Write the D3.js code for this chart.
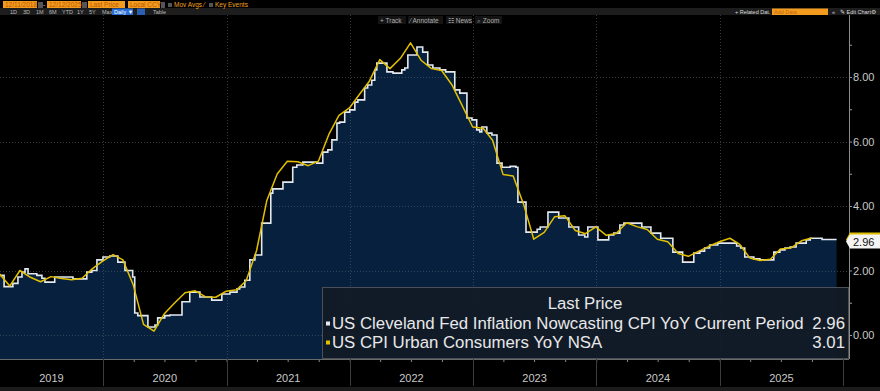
<!DOCTYPE html>
<html><head><meta charset="utf-8">
<script src="https://cdn.jsdelivr.net/npm/d3@7"></script>
<style>html,body{margin:0;padding:0;background:#000;overflow:hidden}svg{display:block;font-family:"Liberation Sans",Arial,sans-serif}</style>
</head><body><svg id="c" width="880" height="391"></svg>
<script>
// ---------- DATA ----------
// US CPI Urban Consumers YoY NSA (monthly, plotted at month end), first month:
const cpiStart = "2019-02";
const cpiValues = [
  1.90, 1.52, 2.00, 1.79, 1.65, 1.81, 1.75, 1.71, 1.76, 2.05, 2.29,
  2.49, 2.33, 1.54, 0.33, 0.12, 0.65, 0.99, 1.31, 1.37, 1.18, 1.17, 1.36,
  1.40, 1.68, 2.62, 4.16, 4.99, 5.39, 5.37, 5.25, 5.39, 6.22, 6.81, 7.04,
  7.48, 7.87, 8.54, 8.26, 8.58, 9.06, 8.52, 8.26, 8.20, 7.75, 7.11, 6.45,
  6.41, 6.04, 4.98, 4.93, 4.05, 2.97, 3.18, 3.67, 3.70, 3.24, 3.14, 3.35,
  3.09, 3.15, 3.48, 3.36, 3.27, 2.97, 2.89, 2.53, 2.44, 2.60, 2.75, 2.89,
  3.00, 2.82, 2.39, 2.31, 2.35, 2.67, 2.70, 2.92, 3.01
];
// US Cleveland Fed Inflation Nowcasting CPI YoY Current Period (step changes)
const nowcastDates = [
  "2019-03-01","2019-03-14","2019-04-09","2019-04-24","2019-05-06","2019-05-15","2019-05-24","2019-06-19","2019-07-04","2019-07-13","2019-08-11",
  "2019-10-04","2019-11-14","2019-11-29","2019-12-14","2020-01-01","2020-01-21","2020-02-14","2020-03-06","2020-03-29","2020-04-04",
  "2020-04-13","2020-05-13","2020-06-03","2020-06-11","2020-07-02","2020-07-17","2020-08-22","2020-09-14","2020-10-14","2020-11-18",
  "2020-12-18","2021-01-11","2021-02-01","2021-02-09","2021-02-24","2021-03-11","2021-03-26","2021-04-15","2021-05-12","2021-05-18",
  "2021-06-17","2021-07-16","2021-07-28","2021-08-15","2021-09-25","2021-10-13","2021-10-28","2021-11-09","2021-11-24","2021-12-02",
  "2021-12-17","2022-01-01","2022-01-16","2022-01-25","2022-02-14","2022-02-23","2022-03-07","2022-03-16","2022-03-22","2022-04-21",
  "2022-05-09","2022-06-04","2022-06-13","2022-06-22","2022-07-19","2022-08-05","2022-08-20","2022-09-04","2022-09-25","2022-10-12",
  "2022-11-08","2022-11-23","2022-12-14","2022-12-29","2023-01-12","2023-01-21","2023-01-27","2023-02-11","2023-02-26","2023-03-13",
  "2023-03-28","2023-04-21","2023-05-08","2023-05-14","2023-06-07","2023-07-10","2023-07-19","2023-08-11","2023-09-12","2023-10-12",
  "2023-11-10","2023-11-28","2023-12-07","2024-01-06","2024-02-07","2024-02-22","2024-03-11","2024-03-23","2024-05-15","2024-06-11",
  "2024-07-10","2024-08-15","2024-09-13","2024-10-16","2024-11-03","2024-11-17","2024-12-02","2024-12-26","2025-02-20","2025-03-04",
  "2025-03-16","2025-04-12","2025-04-30","2025-06-10","2025-06-28","2025-07-13","2025-07-28","2025-08-15","2025-09-14","2025-09-26",
  "2025-10-31","2025-12-13"
];
const nowcastValues = [
  1.85, 1.50, 1.60, 1.80, 1.95, 2.05, 1.90, 1.85, 1.76, 1.64, 1.80,
  1.74, 1.95, 2.00, 2.33, 2.42, 2.45, 2.26, 2.00, 1.80, 0.68,
  0.60, 0.25, 0.31, 0.53, 0.60, 0.62, 1.03, 1.33, 1.18, 1.08,
  1.27, 1.33, 1.43, 1.49, 1.70, 2.33, 2.48, 3.47, 4.40, 4.53,
  4.74, 5.20, 5.27, 5.36, 5.33, 5.67, 5.74, 6.05, 6.57, 6.60,
  6.91, 6.98, 7.22, 7.29, 7.66, 7.75, 7.90, 8.22, 8.43, 8.16,
  8.12, 8.22, 8.28, 8.68, 8.93, 8.77, 8.37, 8.28, 8.22, 8.16,
  7.60, 7.50, 6.73, 6.67, 6.36, 6.30, 6.45, 6.26, 6.20, 5.33,
  5.20, 5.23, 5.20, 4.12, 3.19, 3.28, 3.35, 3.81, 3.63, 3.35,
  3.10, 3.04, 3.35, 2.95, 3.10, 3.16, 3.41, 3.47, 3.35, 3.16,
  3.00, 2.57, 2.26, 2.54, 2.60, 2.70, 2.79, 2.85, 2.76, 2.70,
  2.42, 2.36, 2.33, 2.57, 2.64, 2.70, 2.73, 2.85, 2.95, 3.00,
  2.96, 2.96
];
const yTickValues = [0, 1, 2, 3, 4, 5, 6, 7, 8, 9];
const yLabelValues = [0, 2, 4, 6, 8];
const yearLabels = ["2019", "2020", "2021", "2022", "2023", "2024", "2025"];
const legendTitle = "Last Price";
const seriesNames = ["US Cleveland Fed Inflation Nowcasting CPI YoY Current Period", "US CPI Urban Consumers YoY NSA"];
const lastValues = ["2.96", "3.01"];
const seriesColors = ["#e4e9ef", "#e2c000"];

// ---------- CHART ----------
const svg = d3.select("#c");
const W = 880, H = 391;
const plot = {left: 0, right: 849, top: 15, bottom: 359};
const parse = d3.timeParse("%Y-%m-%d");

const x = d3.scaleTime().domain([new Date(2020, 0, 1), new Date(2026, 0, 1)]).range([103, 843]);
const y = d3.scaleLinear().domain([0, 8]).range([335, 77]);

svg.append("rect").attr("width", W).attr("height", H).attr("fill", "#000");

const defs = svg.append("defs");
defs.append("clipPath").attr("id", "clip").append("rect")
  .attr("x", plot.left).attr("y", plot.top).attr("width", plot.right - plot.left).attr("height", plot.bottom - plot.top);

const nowcast = nowcastDates.map((d, i) => ({date: parse(d), v: nowcastValues[i]}));
const [cy, cm] = cpiStart.split("-").map(Number);
const cpi = cpiValues.map((v, i) => ({date: new Date(cy, cm - 1 + i + 1, 0), v}));

const g = svg.append("g").attr("clip-path", "url(#clip)");

// area under nowcast
g.append("path").datum(nowcast)
  .attr("fill", "#06203d")
  .attr("d", d3.area().curve(d3.curveStepAfter).x(d => x(d.date)).y0(plot.bottom).y1(d => y(d.v)));

// gridlines
const grid = g.append("g").attr("stroke", "#5a6470").attr("stroke-opacity", 0.55).attr("stroke-dasharray", "1,2").attr("stroke-width", 1);
yLabelValues.forEach(v => grid.append("line").attr("x1", plot.left).attr("x2", plot.right).attr("y1", Math.round(y(v)) + 0.5).attr("y2", Math.round(y(v)) + 0.5));
yearLabels.slice(1).forEach(yr => {
  const xx = Math.round(x(new Date(+yr, 0, 1))) + 0.5;
  grid.append("line").attr("x1", xx).attr("x2", xx).attr("y1", plot.top).attr("y2", plot.bottom);
});

// lines
g.append("path").datum(nowcast).attr("fill", "none").attr("stroke", seriesColors[0]).attr("stroke-width", 1.6)
  .attr("d", d3.line().curve(d3.curveStepAfter).x(d => x(d.date)).y(d => y(d.v)));
g.append("path").datum(cpi).attr("fill", "none").attr("stroke", seriesColors[1]).attr("stroke-width", 1.5)
  .attr("stroke-linejoin", "round")
  .attr("d", d3.line().x(d => x(d.date)).y(d => y(d.v)));

// y axis (right)
const yAxis = svg.append("g").attr("transform", `translate(${plot.right},0)`)
  .call(d3.axisRight(y).tickValues(yTickValues).tickSize(3).tickFormat(d => yLabelValues.includes(d) ? d.toFixed(2) : ""));
yAxis.select(".domain").remove();
yAxis.selectAll("line").attr("stroke", "#9a9a9a");
yAxis.selectAll("text").attr("fill", "#c8c8c8").attr("font-size", 11).attr("x", 4).attr("font-family", "Liberation Sans, Arial, sans-serif");
svg.append("line").attr("x1", plot.right + 0.5).attr("x2", plot.right + 0.5).attr("y1", plot.top).attr("y2", plot.bottom).attr("stroke", "#8a8a8a");

// x axis
const xAxis = svg.append("g").attr("transform", `translate(0,${plot.bottom})`)
  .call(d3.axisBottom(x).ticks(d3.timeMonth.every(3)).tickSize(3).tickFormat(""));
xAxis.select(".domain").remove();
xAxis.selectAll("line").attr("stroke", "#8a8a8a");
svg.append("line").attr("x1", plot.left).attr("x2", plot.right).attr("y1", plot.bottom + 0.5).attr("y2", plot.bottom + 0.5).attr("stroke", "#6a6a6a");
yearLabels.forEach((yr, i) => {
  const x0 = Math.max(plot.left, x(new Date(+yr, 0, 1)));
  const x1 = Math.min(plot.right, x(new Date(+yr + 1, 0, 1)));
  if (i > 0) svg.append("line").attr("x1", Math.round(x0) + 0.5).attr("x2", Math.round(x0) + 0.5)
    .attr("y1", plot.bottom).attr("y2", 386).attr("stroke", "#3c3c3c");
  svg.append("text").attr("x", (x0 + x1) / 2).attr("y", 382).attr("text-anchor", "middle")
    .attr("fill", "#c8c8c8").attr("font-size", 11).text(yr);
});
svg.append("line").attr("x1", 843.5).attr("x2", 843.5).attr("y1", plot.bottom).attr("y2", 386).attr("stroke", "#3c3c3c");
svg.append("rect").attr("x", 0).attr("y", 387).attr("width", W).attr("height", 4).attr("fill", "#1c1c1c");

// legend
const lg = svg.append("g");
lg.append("rect").attr("x", 322.5).attr("y", 287.5).attr("width", 526).attr("height", 71)
  .attr("fill", "#121b26").attr("fill-opacity", 0.92).attr("stroke", "#4a5058");
lg.append("text").attr("x", 585).attr("y", 309).attr("text-anchor", "middle").attr("fill", "#e8e8e8").attr("font-size", 16.8).text(legendTitle);
seriesNames.forEach((nm, i) => {
  const by = 328.5 + i * 19;
  lg.append("rect").attr("x", 326).attr("y", by - 7).attr("width", 4).attr("height", 4).attr("fill", seriesColors[i]);
  lg.append("text").attr("x", 332).attr("y", by).attr("fill", "#e8e8e8").attr("font-size", 16.8).text(nm);
  lg.append("text").attr("x", 845).attr("y", by).attr("text-anchor", "end").attr("fill", "#e8e8e8").attr("font-size", 16.8).text(lastValues[i]);
});

// last value tags
const tagY = y(+lastValues[0]) + 2;
const tag = (cyy) => `M${plot.right - 3},${cyy} L${plot.right + 1},${cyy - 7} L${W},${cyy - 7} L${W},${cyy + 7} L${plot.right + 1},${cyy + 7} Z`;
svg.append("path").attr("d", tag(tagY - 2)).attr("fill", seriesColors[1]);
svg.append("path").attr("d", tag(tagY)).attr("fill", "#f4f4f4");
svg.append("text").attr("x", 853).attr("y", tagY + 4).attr("fill", "#111").attr("font-size", 11).text(lastValues[0]);

// toolbar
const tb = svg.append("g").attr("font-size", 6.5);
tb.append("rect").attr("x", 0).attr("y", 8).attr("width", W).attr("height", 7).attr("fill", "#1d1d1d");
const orangeField = (x0, w, t) => {
  tb.append("rect").attr("x", x0).attr("y", 1).attr("width", w).attr("height", 7).attr("fill", "#f39b1f");
  tb.append("text").attr("x", x0 + 2).attr("y", 6.8).attr("fill", "#b85a00").text(t);
};
orangeField(3, 34, "12/11/2018");
orangeField(47, 34, "12/12/2025");
orangeField(88, 37, "Last Price");
orangeField(128, 32, "Local CCY");
[[38, 5], [82, 5], [161, 4]].forEach(([a, w]) => tb.append("rect").attr("x", a).attr("y", 2).attr("width", w).attr("height", 6).attr("fill", "#555"));
tb.append("text").attr("x", 43).attr("y", 7).attr("fill", "#ccc").text("-");
tb.append("rect").attr("x", 168).attr("y", 3).attr("width", 4).attr("height", 4).attr("fill", "#555");
tb.append("text").attr("x", 174).attr("y", 7).attr("fill", "#f0a020").text("Mov Avgs ⁄");
tb.append("rect").attr("x", 209).attr("y", 3).attr("width", 4).attr("height", 4).attr("fill", "#555");
tb.append("text").attr("x", 215).attr("y", 7).attr("fill", "#f0a020").text("Key Events");
[["1D", 10], ["3D", 23], ["1M", 36], ["6M", 49], ["YTD", 62], ["1Y", 77], ["5Y", 89], ["Max", 102]].forEach(([t, a]) =>
  tb.append("text").attr("x", a).attr("y", 14).attr("fill", "#bbb").attr("font-size", 5.5).text(t));
tb.append("rect").attr("x", 112).attr("y", 8.5).attr("width", 21).attr("height", 6.5).attr("fill", "#2a6fd6");
tb.append("text").attr("x", 114).attr("y", 14).attr("fill", "#fff").attr("font-size", 5.5).text("Daily ▼");
tb.append("rect").attr("x", 137).attr("y", 8.5).attr("width", 8).attr("height", 6.5).attr("fill", "#2a5fb0");
tb.append("text").attr("x", 153).attr("y", 14).attr("fill", "#bbb").attr("font-size", 5.5).text("Table");
tb.append("text").attr("x", 735).attr("y", 14).attr("fill", "#ddd").attr("font-size", 5.5).text("+ Related Dat.");
tb.append("rect").attr("x", 772).attr("y", 8.5).attr("width", 56).attr("height", 6.5).attr("fill", "#f39b1f");
tb.append("text").attr("x", 774).attr("y", 14).attr("fill", "#c06a10").attr("font-size", 5.5).text("Add Data");
tb.append("text").attr("x", 832).attr("y", 14).attr("fill", "#ccc").attr("font-size", 5.5).text("«");
tb.append("text").attr("x", 840).attr("y", 14).attr("fill", "#ddd").attr("font-size", 5.5).text("✎ Edit Chart");
tb.append("text").attr("x", 871).attr("y", 14).attr("fill", "#ccc").attr("font-size", 6).text("⚙");
[["+ Track", 378, 28], ["⁄ Annotate", 408, 35], ["☷ News", 446, 26], ["⌕ Zoom", 475, 27]].forEach(([t, a, w]) => {
  tb.append("rect").attr("x", a).attr("y", 16).attr("width", w).attr("height", 8).attr("fill", "#141414");
  tb.append("text").attr("x", a + 2).attr("y", 22.5).attr("fill", "#b0b0b0").attr("font-size", 6.5).text(t);
});
</script></body></html>
